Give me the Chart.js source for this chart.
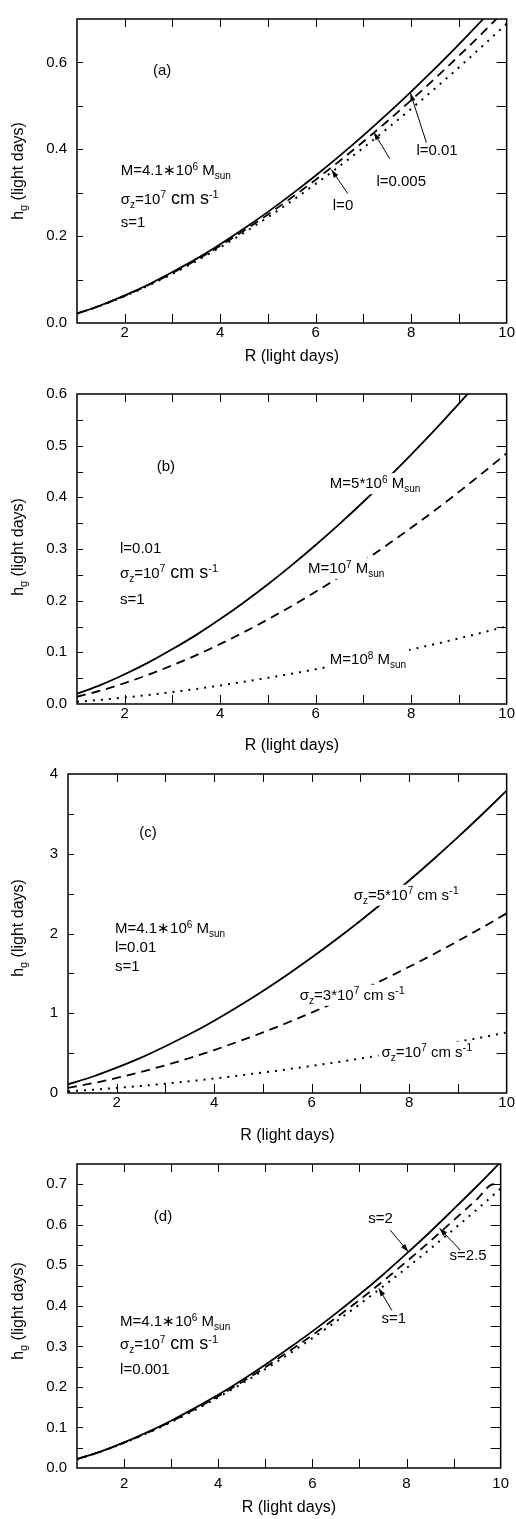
<!DOCTYPE html>
<html><head><meta charset="utf-8">
<script src="https://cdn.jsdelivr.net/npm/chart.js@4.4.1/dist/chart.umd.min.js"></script>
<style>
html,body{margin:0;padding:0;background:#fff;}
body{width:516px;height:1519px;position:relative;overflow:hidden;}
canvas{position:absolute;left:0;}
</style></head><body>
<canvas id="ca" width="516" height="375" style="top:0px"></canvas>
<canvas id="cb" width="516" height="380" style="top:375px"></canvas>
<canvas id="cc" width="516" height="390" style="top:755px"></canvas>
<canvas id="cd" width="516" height="374" style="top:1145px"></canvas>
<script>
// ---------------- data ----------------
const R = [1,1.5,2,2.5,3,3.5,4,4.5,5,5.5,6,6.5,7,7.5,8,8.5,9,9.5,10];

// panel (a): M=4.1e6, sigma=1e7, s=1
const aL0   = [0.0218,0.0400,0.0617,0.0862,0.1133,0.1427,0.1744,0.2081,0.2437,0.2812,0.3204,0.3613,0.4037,0.4478,0.4933,0.5402,0.5886,0.6383,0.6894];
const aL005 = [0.0218,0.0404,0.0626,0.0875,0.1153,0.1452,0.1779,0.2128,0.2498,0.2889,0.3300,0.3730,0.4178,0.4646,0.5130,0.5632,0.6151,0.6686,0.7239];
const aL01  = [0.0218,0.0408,0.0635,0.0888,0.1173,0.1477,0.1814,0.2175,0.2559,0.2967,0.3396,0.3848,0.4320,0.4814,0.5328,0.5861,0.6416,0.6989,0.7583];

// panel (b): l=0.01, sigma=1e7, s=1
const bM5e6 = [0.0198,0.0370,0.0575,0.0805,0.1063,0.1338,0.1643,0.1971,0.2318,0.2688,0.3077,0.3486,0.3914,0.4362,0.4827,0.5310,0.5813,0.6332,0.6870];
const bM1e7 = [0.0140,0.0261,0.0406,0.0568,0.0751,0.0945,0.1161,0.1392,0.1638,0.1899,0.2173,0.2463,0.2765,0.3081,0.3410,0.3751,0.4106,0.4473,0.4853];
const bM1e8 = [0.0043,0.0081,0.0126,0.0176,0.0232,0.0292,0.0359,0.0431,0.0507,0.0587,0.0672,0.0762,0.0855,0.0953,0.1055,0.1160,0.1270,0.1384,0.1501];

// panel (c): M=4.1e6, l=0.01, s=1
const cS5e7 = [0.109,0.204,0.318,0.444,0.587,0.739,0.907,1.088,1.280,1.484,1.698,1.924,2.160,2.407,2.664,2.931,3.208,3.495,3.792];
const cS3e7 = [0.0647,0.1212,0.1886,0.2637,0.3484,0.4387,0.5388,0.6460,0.7600,0.8812,1.0086,1.1429,1.2830,1.4298,1.5824,1.7407,1.9056,2.0757,2.2522];
const cS1e7 = [0.0218,0.0408,0.0635,0.0888,0.1173,0.1477,0.1814,0.2175,0.2559,0.2967,0.3396,0.3848,0.4320,0.4814,0.5328,0.5861,0.6416,0.6989,0.7583];

// panel (d): M=4.1e6, sigma=1e7, l=0.001
const dS2  = [0.0218,0.0406,0.0632,0.0888,0.1167,0.1477,0.1805,0.2164,0.2547,0.2953,0.3371,0.3815,0.4279,0.4769,0.5288,0.5823,0.6386,0.6957,0.7549];
const dR25 = [1,1.5,2,2.5,3,3.5,4,4.5,5,5.5,6,6.5,7,7.5,8,8.5,9,9.5,9.85,10];
const dS25 = [0.0218,0.0403,0.0624,0.0874,0.1148,0.1449,0.1771,0.2118,0.2486,0.2875,0.3279,0.3704,0.4146,0.4609,0.5093,0.5592,0.6111,0.6634,0.7000,0.7000];
const dS1  = [0.0218,0.0400,0.0617,0.0862,0.1133,0.1427,0.1744,0.2081,0.2437,0.2812,0.3204,0.3613,0.4037,0.4478,0.4933,0.5402,0.5886,0.6383,0.6894];

// ticks
const xTicks = [2,4,6,8,10];
const xMarks = [2,3,4,5,6,7,8,9];
const yTicksA = [0,0.2,0.4,0.6];
const yMarksA = [0.1,0.2,0.3,0.4,0.5,0.6];
const yTicksB = [0,0.1,0.2,0.3,0.4,0.5,0.6];
const yMarksB = [0.05,0.1,0.15,0.2,0.25,0.3,0.35,0.4,0.45,0.5,0.55];
const yTicksC = [0,1,2,3,4];
const yMarksC = [0.5,1,1.5,2,2.5,3,3.5];
const yTicksD = [0,0.1,0.2,0.3,0.4,0.5,0.6,0.7];
const yMarksD = [0.05,0.1,0.15,0.2,0.25,0.3,0.35,0.4,0.45,0.5,0.55,0.6,0.65,0.7];

// ---------------- text helpers ----------------
const FAM = "'Liberation Sans', Arial, Helvetica, sans-serif";
const T = (t,s=15)=>[t,s,0];
const SUP = (t,s=10,d=-5)=>[t,s,d];
const SUB = (t,s=10,d=4)=>[t,s,d];
const msun = (pre,exp)=>[T(pre),SUP(exp),T(' M'),SUB('sun')];
const sigL = (pre,exp,big)=>[T('σ'),SUB('z'),T(pre),SUP(exp,10,-6),T(' cm s',big?18:15),SUP('-1',11,-6)];

function richWidth(ctx,segs){let w=0;segs.forEach(s=>{ctx.font=s[1]+'px '+FAM;w+=ctx.measureText(s[0]).width;});return w;}
function drawRich(ctx,x,y,segs){let cx=x;segs.forEach(s=>{ctx.font=s[1]+'px '+FAM;ctx.fillText(s[0],cx,y+s[2]);cx+=ctx.measureText(s[0]).width;});}
function arrow(ctx,x1,y1,x2,y2){
  ctx.lineWidth=1;ctx.beginPath();ctx.moveTo(x1,y1);ctx.lineTo(x2,y2);ctx.stroke();
  const a=Math.atan2(y2-y1,x2-x1),L=8,W=2.6;
  ctx.beginPath();ctx.moveTo(x2,y2);
  ctx.lineTo(x2-L*Math.cos(a)+W*Math.sin(a),y2-L*Math.sin(a)-W*Math.cos(a));
  ctx.lineTo(x2-L*Math.cos(a)-W*Math.sin(a),y2-L*Math.sin(a)+W*Math.cos(a));
  ctx.closePath();ctx.fill();
}

const framePlugin = {
  id:'frame',
  afterDraw(chart,args,o){
    const {ctx,chartArea:a,scales:{x,y}}=chart;
    ctx.save();
    ctx.strokeStyle='#000';ctx.fillStyle='#000';
    ctx.lineWidth=1;ctx.beginPath();
    o.xMarks.forEach(v=>{const p=Math.round(x.getPixelForValue(v))+0.5;
      ctx.moveTo(p,a.bottom);ctx.lineTo(p,a.bottom-9);ctx.moveTo(p,a.top);ctx.lineTo(p,a.top+8);});
    o.yMarks.forEach(v=>{const p=Math.round(y.getPixelForValue(v))+0.5;
      ctx.moveTo(a.left,p);ctx.lineTo(a.left+6,p);ctx.moveTo(a.right,p);ctx.lineTo(a.right-10,p);});
    ctx.stroke();
    ctx.lineWidth=1.5;
    ctx.strokeRect(a.left,a.top,a.right-a.left,a.bottom-a.top);
    // y title (rotated, with subscript)
    ctx.textAlign='left';ctx.textBaseline='alphabetic';
    const ys=[['h',16,0],['g',11,4],[' (light days)',16,0]];
    const w=richWidth(ctx,ys);
    ctx.save();ctx.translate(23,o.yTitleY);ctx.rotate(-Math.PI/2);
    drawRich(ctx,-w/2,0,ys);ctx.restore();
    // arrows
    (o.arrows||[]).forEach(r=>{arrow(ctx,x.getPixelForValue(r[0]),y.getPixelForValue(r[1]),x.getPixelForValue(r[2]),y.getPixelForValue(r[3]));});
    // labels
    (o.labels||[]).forEach(l=>{
      const px=x.getPixelForValue(l.x),py=y.getPixelForValue(l.y);
      if(l.bg){const lw=richWidth(ctx,l.segs);ctx.fillStyle='#fff';ctx.fillRect(px-3,py-15,lw+6,21);ctx.fillStyle='#000';}
      drawRich(ctx,px,py,l.segs);
    });
    ctx.restore();
  }
};

function ds(xs,ys,style){
  return {data:xs.map((v,i)=>({x:v,y:ys[i]})),borderColor:'#000',
    borderWidth:style==='dot'?2:1.8,
    borderDash:style==='dash'?[9,6]:(style==='dot'?[2,6]:[]),
    pointRadius:0,fill:false,cubicInterpolationMode:'monotone',clip:0};
}

const panels=[
 {id:'ca',top:0,L:77,padTop:6,xh:52,titlePad:9,ymax:0.7,yTicks:yTicksA,yMarks:yMarksA,dec:1,yTitleY:171,xlabPad:2,
  series:[ds(R,aL01,'solid'),ds(R,aL005,'dash'),ds(R,aL0,'dot')],
  labels:[
   {x:2.59,y:0.571,segs:[T('(a)')]},
   {x:1.915,y:0.3416,segs:msun('M=4.1∗10','6')},
   {x:1.915,y:0.2738,segs:sigL('=10','7',true)},
   {x:1.915,y:0.2215,segs:[T('s=1')]},
   {x:6.358,y:0.2606,segs:[T('l=0')]},
   {x:7.272,y:0.3158,segs:[T('l=0.005')]},
   {x:8.109,y:0.3858,segs:[T('l=0.01')]}],
  arrows:[[6.672,0.2981,6.331,0.3527],[7.551,0.3783,7.216,0.4394],[8.319,0.4151,7.984,0.5293]]},
 {id:'cb',top:375,L:77,padTop:12,xh:51,titlePad:0,ymax:0.6,yTicks:yTicksB,yMarks:yMarksB,dec:1,yTitleY:547,xlabPad:2,
  series:[ds(R,bM5e6,'solid'),ds(R,bM1e7,'dash'),ds(R,bM1e8,'dot')],
  labels:[
   {x:2.668,y:0.4518,segs:[T('(b)')]},
   {x:1.9,y:0.2915,segs:[T('l=0.01')]},
   {x:1.9,y:0.2442,segs:sigL('=10','7',true)},
   {x:1.9,y:0.1936,segs:[T('s=1')]},
   {x:6.295,y:0.4177,segs:msun('M=5*10','6'),bg:true},
   {x:5.841,y:0.2536,segs:msun('M=10','7'),bg:true},
   {x:6.295,y:0.0770,segs:msun('M=10','8'),bg:true}],
  arrows:[]},
 {id:'cc',top:755,L:68,padTop:14,xh:52,titlePad:0,ymax:4,yTicks:yTicksC,yMarks:yMarksC,dec:0,yTitleY:928,xlabPad:2,
  series:[ds(R,cS5e7,'solid'),ds(R,cS3e7,'dash'),ds(R,cS1e7,'dot')],
  labels:[
   {x:2.462,y:3.21,segs:[T('(c)')]},
   {x:1.964,y:2.012,segs:msun('M=4.1∗10','6')},
   {x:1.964,y:1.765,segs:[T('l=0.01')]},
   {x:1.964,y:1.527,segs:[T('s=1')]},
   {x:6.863,y:2.423,segs:sigL('=5*10','7',false),bg:true},
   {x:5.756,y:1.169,segs:sigL('=3*10','7',false),bg:true},
   {x:7.431,y:0.457,segs:sigL('=10','7',false),bg:true}],
  arrows:[]},
 {id:'cd',top:1145,L:77,padTop:5,xh:51,titlePad:2,ymax:0.75,yTicks:yTicksD,yMarks:yMarksD,dec:1,yTitleY:1311,xlabPad:8,
  series:[ds(R,dS2,'solid'),ds(dR25,dS25,'dash'),ds(R,dS1,'dot')],
  labels:[
   {x:2.633,y:0.6085,segs:[T('(d)')]},
   {x:1.915,y:0.3507,segs:msun('M=4.1∗10','6')},
   {x:1.915,y:0.2941,segs:sigL('=10','7',true)},
   {x:1.915,y:0.2328,segs:[T('l=0.001')]},
   {x:7.189,y:0.6045,segs:[T('s=2')]},
   {x:8.911,y:0.5142,segs:[T('s=2.5')]},
   {x:7.467,y:0.3568,segs:[T('s=1')]}],
  arrows:[[7.655,0.5866,8.038,0.5337],[9.141,0.5377,8.702,0.5913],[7.691,0.3884,7.411,0.4434]]}
];

Chart.defaults.font.family=FAM;
Chart.defaults.color='#000';

panels.forEach(p=>{
  new Chart(document.getElementById(p.id),{
    type:'line',
    data:{datasets:p.series},
    plugins:[framePlugin],
    options:{
      responsive:false,animation:false,events:[],
      layout:{padding:{top:p.padTop,right:9,left:0,bottom:0}},
      plugins:{legend:{display:false},tooltip:{enabled:false},
        frame:{xMarks:xMarks,yMarks:p.yMarks,yTitleY:p.yTitleY-p.top,labels:p.labels,arrows:p.arrows}},
      scales:{
        x:{type:'linear',min:1,max:10,
          afterBuildTicks:s=>{s.ticks=xTicks.map(v=>({value:v}));},
          afterFit:s=>{s.height=p.xh;},
          grid:{display:false,drawTicks:false},border:{display:false},
          ticks:{font:{size:15},color:'#000',padding:p.xlabPad-1,maxRotation:0,autoSkip:false,callback:v=>String(v)},
          title:{display:true,text:'R (light days)',font:{size:16},color:'#000',padding:{top:0,bottom:p.titlePad}}},
        y:{type:'linear',min:0,max:p.ymax,
          afterBuildTicks:s=>{s.ticks=p.yTicks.map(v=>({value:v}));},
          afterFit:s=>{s.width=p.L;},
          grid:{display:false,drawTicks:false},border:{display:false},
          ticks:{font:{size:15},color:'#000',padding:10,autoSkip:false,callback:v=>Number(v).toFixed(p.dec)}}
      }
    }
  });
});
</script>
</body></html>
